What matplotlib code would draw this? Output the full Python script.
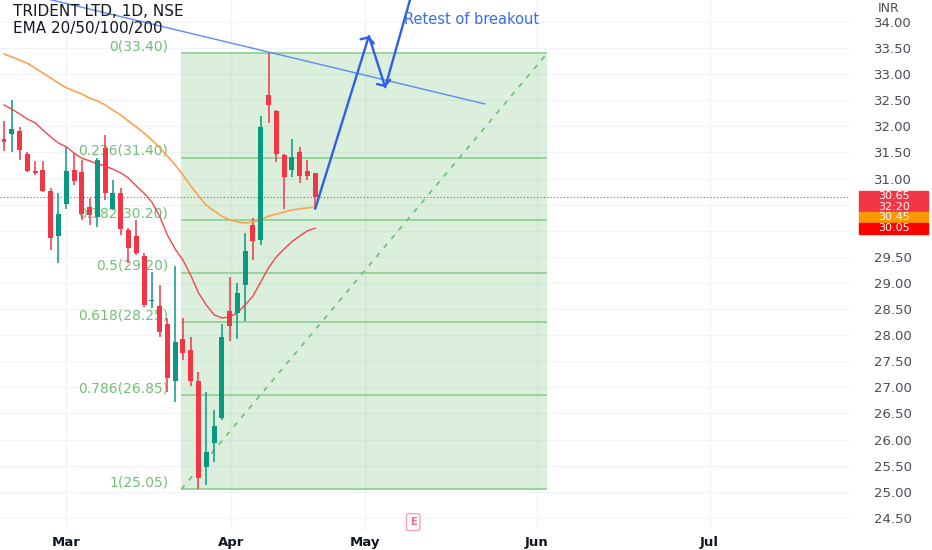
import matplotlib
matplotlib.use('Agg')
import matplotlib.pyplot as plt
import matplotlib.transforms as mtransforms
from matplotlib.patches import Rectangle
import numpy as np

# daily candles, 1 Feb .. 21 Apr (bar index 0..40)
opens = [31.76, 31.85, 31.91, 31.47, 31.15, 31.16, 30.76, 29.90, 30.51, 31.16,
         31.13, 30.46, 30.26, 31.59, 30.42, 30.72, 30.02, 29.90, 29.52, 28.66,
         28.56, 28.21, 27.12, 27.93, 27.72, 27.12, 25.48, 25.93, 26.41, 28.46,
         28.42, 28.96, 30.11, 29.82, 32.60, 32.29, 31.45, 31.16, 31.51, 31.15, 31.11]
highs = [32.10, 32.51, 31.99, 31.51, 31.34, 31.34, 30.82, 30.72, 31.61, 31.49,
         31.36, 30.63, 31.39, 31.84, 30.97, 30.82, 30.05, 30.21, 29.57, 29.21,
         28.96, 28.33, 29.33, 28.33, 27.97, 27.29, 26.91, 26.57, 28.21, 29.11,
         29.00, 29.96, 30.25, 32.20, 33.40, 32.31, 31.47, 31.76, 31.61, 31.36, 31.11]
lows = [31.53, 31.51, 31.36, 31.13, 31.07, 30.74, 29.63, 29.38, 30.42, 30.88,
        30.21, 30.11, 30.07, 30.59, 30.40, 29.92, 29.38, 29.54, 28.54, 28.52,
        27.97, 26.91, 26.72, 27.52, 27.03, 25.05, 25.13, 25.57, 26.38, 27.89,
        27.93, 28.27, 29.44, 29.73, 32.07, 31.32, 30.42, 31.03, 30.92, 30.97, 30.42]
closes = [31.70, 31.95, 31.55, 31.15, 31.11, 30.76, 29.86, 30.32, 31.15, 30.95,
          30.32, 30.30, 31.36, 30.72, 30.72, 30.03, 29.67, 29.57, 28.58, 28.68,
          28.06, 27.18, 27.87, 27.66, 27.12, 25.26, 25.76, 26.26, 27.97, 28.18,
          28.81, 29.61, 29.80, 31.99, 32.41, 31.47, 31.03, 31.41, 31.05, 31.05, 30.65]

ema20 = [32.41, 32.33, 32.24, 32.14, 32.07, 31.93, 31.80, 31.68, 31.61, 31.49,
         31.39, 31.34, 31.28, 31.24, 31.18, 31.11, 31.01, 30.86, 30.72, 30.55,
         30.28, 29.92, 29.65, 29.44, 29.15, 28.81, 28.58, 28.39, 28.33, 28.35,
         28.43, 28.58, 28.75, 29.02, 29.29, 29.50, 29.65, 29.79, 29.90, 30.00, 30.05]
ema50 = [33.39, 33.33, 33.27, 33.21, 33.12, 33.02, 32.93, 32.83, 32.74, 32.68,
         32.62, 32.54, 32.49, 32.41, 32.31, 32.22, 32.10, 31.99, 31.87, 31.74,
         31.59, 31.43, 31.26, 31.07, 30.86, 30.67, 30.49, 30.38, 30.28, 30.21,
         30.17, 30.15, 30.17, 30.21, 30.28, 30.32, 30.36, 30.40, 30.42, 30.44, 30.45]

fib_ratios = ['0', '0.236', '0.382', '0.5', '0.618', '0.786', '1']
fib_prices = [33.40, 31.40, 30.20, 29.20, 28.25, 26.85, 25.05]
fib_start, fib_end = 22.8, 69.8

month_labels = ['Mar', 'Apr', 'May', 'Jun', 'Jul']
month_pos = [8, 29.2, 46.4, 68.5, 90.7]
price_ticks = np.arange(24.5, 34.01, 0.5)
hidden_ticks = [30.0, 30.5]   # covered by the price labels

trend_x = [0, 61.8]
trend_y = [34.64, 32.43]
proj_x = [40, 46.9, 49.0, 52.8]
proj_y = [30.42, 33.73, 32.75, 34.75]

last_price = 30.65
countdown = '32:20'
earnings_pos = 52.6

UP, DOWN = '#089981', '#f23645'

fig = plt.figure(figsize=(9.32, 5.5), dpi=100)
ax = fig.add_axes([0, 20 / 550, 850 / 932, 530 / 550])
ax.set_xlim(-0.514, 108.74)
ax.set_ylim(24.268, 34.421)
for s in ax.spines.values():
    s.set_visible(False)

# grid
for p in price_ticks:
    ax.axhline(p, color='#f0f3fa', lw=0.9, zorder=0)
for m in month_pos:
    ax.axvline(m, color='#f0f3fa', lw=0.9, zorder=0)

# fib retracement
ax.fill_between([fib_start, fib_end], fib_prices[-1], fib_prices[0],
                color='#4caf50', alpha=0.2, lw=0, zorder=1)
ax.hlines(fib_prices, fib_start, fib_end, color='#8bcf8e', lw=1.2, zorder=2)
for r, p in zip(fib_ratios, fib_prices):
    ax.annotate('%s(%.2f)' % (r, p), (21.1, p), xytext=(0, 5), textcoords='offset points',
                ha='right', va='center', color='#72c076', fontsize=10, zorder=3)
ax.plot([fib_start, fib_end], [fib_prices[-1], fib_prices[0]], ls=(0, (3, 4)),
        color='#6dbf71', lw=1.2, zorder=2)

# last price line
ax.axhline(last_price, color=DOWN, lw=0.8, ls=(0, (1, 2)), zorder=2)

# candles
x = np.arange(len(opens))
o, h, l, c = map(np.array, (opens, highs, lows, closes))
cols = [UP if cc >= oo else DOWN for oo, cc in zip(o, c)]
ax.vlines(x, l, h, colors=cols, lw=1.1, zorder=4)
body = np.maximum(np.abs(c - o), 0.02)
ax.bar(x, body, bottom=np.minimum(o, c), width=0.64, color=cols, lw=0, zorder=5)

# EMAs
ax.plot(x, ema20, color='#f0474f', lw=1.0, zorder=4)
ax.plot(x, ema50, color='#ffa24d', lw=1.2, zorder=4)

# drawings
ax.plot(trend_x, trend_y, color='#5b8def', lw=1.0, zorder=6)
pc = '#2f5fe8'
for i in range(2):
    ax.annotate('', xy=(proj_x[i + 1], proj_y[i + 1]), xytext=(proj_x[i], proj_y[i]),
                arrowprops=dict(arrowstyle='->,head_length=0.3,head_width=0.5',
                                color=pc, lw=1.7, shrinkA=0, shrinkB=0), zorder=7)
ax.plot(proj_x[2:], proj_y[2:], color=pc, lw=1.7, zorder=7, solid_capstyle='round')
ax.text(51.4, 34.04, 'Retest of breakout', color='#3a6ee8', fontsize=10.5,
        ha='left', va='center', zorder=7)

# earnings badge
tr = mtransforms.blended_transform_factory(ax.transData, ax.transAxes)
ax.text(earnings_pos, 0.015, 'E', transform=tr, ha='center', va='center',
        color='#f06a8a', fontsize=7, fontweight='bold', zorder=8,
        bbox=dict(boxstyle='round,pad=0.35,rounding_size=0.2', fc='white', ec='#f5a3b5', lw=1))

# axes ticks
ax.set_xticks(month_pos)
ax.set_xticklabels(month_labels, fontweight='bold', fontsize=9.5, color='#131722')
ax.yaxis.tick_right()
ax.set_yticks(price_ticks)
ax.set_yticklabels(['' if round(p, 2) in hidden_ticks else '%.2f' % p for p in price_ticks],
                   fontsize=9.5, color='#4a4d57')
ax.tick_params(axis='y', length=0, pad=17)
ax.tick_params(axis='x', length=0, pad=4)

# header
fig.text(13 / 932, 1 - 12 / 550, 'TRIDENT LTD, 1D, NSE', fontsize=11, color='#131722', va='center')
fig.text(13 / 932, 1 - 29 / 550, 'EMA 20/50/100/200', fontsize=11, color='#131722', va='center')
fig.text(889 / 932, 1 - 8 / 550, 'INR', fontsize=9, color='#4a4d57', ha='center', va='center')

# price scale labels
H = 550.0
y_last = H - ax.transData.transform((0, last_price))[1]
boxes = [(y_last - 6, 21, '#f23645', ['%.2f' % last_price, countdown]),
         (None, 11, '#ff9800', ['%.2f' % ema50[-1]]),
         (None, 11, '#ff0000', ['%.2f' % ema20[-1]])]
top = None
for t, hgt, col, texts in boxes:
    if t is None:
        t = top
    fig.patches.append(Rectangle((859 / 932, 1 - (t + hgt) / H), 69 / 932, hgt / H,
                                 transform=fig.transFigure, color=col, zorder=5))
    step = hgt / len(texts)
    for k, s in enumerate(texts):
        fig.text(894 / 932, 1 - (t + step * (k + 0.5)) / H, s, color='white', fontsize=8,
                 ha='center', va='center', zorder=6)
    top = t + hgt

fig.savefig('out.png', dpi=100)
